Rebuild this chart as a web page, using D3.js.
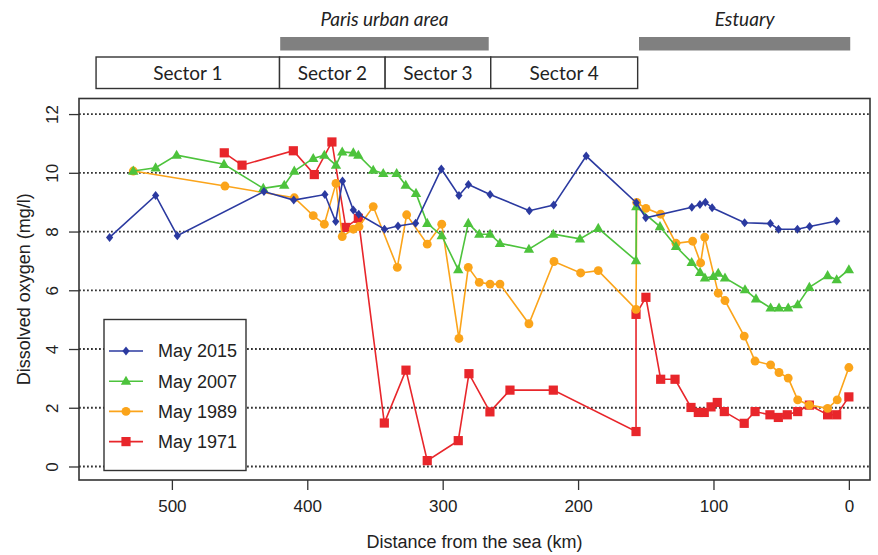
<!DOCTYPE html>
<html>
<head>
<meta charset="utf-8">
<script src="https://cdn.jsdelivr.net/npm/d3@7"></script>
<style>
  body { margin: 0; background: #fff; }
  svg { display: block; }
</style>
</head>
<body>
<div id="chart"></div>
<script>
// distance from the sea (km) and dissolved oxygen (mg/l)
var km2015 = [546, 512, 496, 432, 410, 387, 379, 374, 366, 362, 343, 333, 320, 301, 288, 281, 265, 236, 218, 194, 157, 150, 116, 110, 106, 101, 77, 58, 52, 38, 29, 9];
var do2015 = [7.8, 9.23, 7.86, 9.36, 9.07, 9.26, 8.34, 9.72, 8.73, 8.59, 8.08, 8.19, 8.28, 10.13, 9.23, 9.6, 9.26, 8.71, 8.9, 10.57, 8.98, 8.47, 8.83, 8.92, 9.0, 8.81, 8.3, 8.27, 8.08, 8.08, 8.17, 8.36];

var km2007 = [528.5, 512, 496.5, 461.5, 432.5, 417, 409.6, 395.6, 387.4, 378.8, 374.2, 366, 362.3, 351.3, 343.9, 334, 327.3, 319.7, 311.4, 300.7, 288.5, 281.1, 273, 265, 257.7, 236.3, 218.3, 198.6, 185.1, 157.2, 157, 139.5, 127.7, 116.1, 109.9, 106.3, 100.1, 96.5, 91.5, 76.7, 68.6, 57.8, 51.6, 44.8, 37.8, 29.2, 15.7, 9, 0];
var do2007 = [10.06, 10.17, 10.6, 10.29, 9.47, 9.58, 10.06, 10.49, 10.6, 10.26, 10.71, 10.68, 10.6, 10.09, 9.98, 9.98, 9.58, 9.3, 8.28, 7.86, 6.7, 8.28, 7.91, 7.91, 7.6, 7.4, 7.91, 7.75, 8.11, 7.01, 8.85, 8.17, 7.49, 6.95, 6.61, 6.42, 6.47, 6.58, 6.42, 6.02, 5.71, 5.4, 5.4, 5.4, 5.51, 6.1, 6.5, 6.36, 6.7];

var km1989 = [528.5, 460.8, 409.6, 395.6, 387.4, 378.8, 374.2, 366, 361.8, 351.3, 333.5, 326.6, 311.4, 300.7, 288, 281.1, 273, 265, 257.7, 236.3, 217.8, 198.1, 185.1, 157.2, 156.7, 149.9, 139, 127.7, 115.4, 109.5, 106.5, 96.5, 91.5, 77.3, 69.3, 57.8, 51.6, 44.8, 37.8, 29.2, 15.7, 8.6, 0];
var do1989 = [10.06, 9.55, 9.15, 8.54, 8.25, 9.64, 7.83, 8.08, 8.17, 8.85, 6.78, 8.57, 7.57, 8.25, 4.36, 6.78, 6.27, 6.21, 6.21, 4.86, 6.98, 6.59, 6.67, 5.35, 8.99, 8.79, 8.59, 7.6, 7.67, 6.93, 7.81, 5.9, 5.65, 4.44, 3.59, 3.46, 3.2, 3.01, 2.27, 2.09, 1.98, 2.27, 3.37];

var km1971 = [461.3, 448.2, 410.3, 394.8, 381.8, 371.6, 362.3, 343.1, 327.1, 311.4, 288.5, 280.6, 265.1, 250.3, 218.3, 157.2, 157.2, 149.9, 139, 128.4, 116.6, 111.2, 106.8, 101.8, 97.2, 92, 77.3, 69.3, 58.3, 52.1, 45.5, 37.8, 29.2, 15.7, 9, 0];
var do1971 = [10.68, 10.26, 10.75, 9.94, 11.05, 8.14, 8.45, 1.48, 3.28, 0.2, 0.88, 3.16, 1.86, 2.6, 2.6, 1.19, 5.18, 5.76, 2.97, 2.97, 2.01, 1.84, 1.84, 2.03, 2.18, 1.87, 1.47, 1.87, 1.76, 1.67, 1.76, 1.87, 2.09, 1.76, 1.76, 2.37];

var seriesNames = ["May 2015", "May 2007", "May 1989", "May 1971"];
var seriesColors = ["#2b3aa0", "#4dc33c", "#fba41a", "#e8262b"];
var seriesShapes = ["diamond", "triangle", "circle", "square"];

var xTicks = [500, 400, 300, 200, 100, 0];
var yTicks = [0, 2, 4, 6, 8, 10, 12];

// header: sector boundaries (km) and shaded zones
var sectorNames = ["Sector 1", "Sector 2", "Sector 3", "Sector 4"];
var sectorEdges = [556, 420.5, 342.5, 264.5, 156];
var zoneNames = ["Paris urban area", "Estuary"];
var zoneFrom = [420, 155];
var zoneTo = [266, -1];

(function () {
    var width = 878, height = 555;
    var plotLeft = 79, plotRight = 870, plotTop = 98.5, plotBottom = 480;

    var svg = d3.select("#chart").append("svg")
        .attr("width", width)
        .attr("height", height)
        .style("font-family", "'Liberation Sans', Arial, sans-serif");

    var x = d3.scaleLinear().domain([568.6, -15.6]).range([plotLeft, plotRight]);
    var y = d3.scaleLinear().domain([-0.46, 12.53]).range([plotBottom, plotTop]);

    // dotted grid
    svg.selectAll(".grid")
        .data(yTicks)
        .enter().append("line")
        .attr("class", "grid")
        .attr("x1", plotLeft).attr("x2", plotRight)
        .attr("y1", function (d) { return y(d); })
        .attr("y2", function (d) { return y(d); })
        .attr("stroke", "#333")
        .attr("stroke-width", 1.8)
        .attr("stroke-dasharray", "1.8,2.2");

    // axes
    var xAxis = svg.append("g")
        .attr("transform", "translate(0," + plotBottom + ")")
        .call(d3.axisBottom(x).tickValues(xTicks).tickSize(10).tickPadding(10));
    var yAxis = svg.append("g")
        .attr("transform", "translate(" + plotLeft + ",0)")
        .call(d3.axisLeft(y).tickValues(yTicks).tickSize(10).tickPadding(7));

    [xAxis, yAxis].forEach(function (g) {
        g.select(".domain").remove();
        g.selectAll(".tick line").attr("stroke", "#333").attr("stroke-width", 1.3);
        g.selectAll(".tick text")
            .attr("fill", "#222")
            .style("font-size", "17px")
            .style("font-family", "'Liberation Sans', Arial, sans-serif");
    });
    // y labels are turned, as in base R plots
    yAxis.selectAll(".tick text")
        .attr("transform", "translate(-27,0) rotate(-90)")
        .attr("x", 0)
        .attr("y", 0)
        .attr("dy", "0.35em")
        .attr("text-anchor", "middle");

    svg.append("rect")
        .attr("x", plotLeft).attr("y", plotTop)
        .attr("width", plotRight - plotLeft).attr("height", plotBottom - plotTop)
        .attr("fill", "none")
        .attr("stroke", "#333")
        .attr("stroke-width", 1.6);

    svg.append("text")
        .attr("x", (plotLeft + plotRight) / 2)
        .attr("y", 548)
        .attr("text-anchor", "middle")
        .attr("fill", "#222")
        .style("font-size", "18px")
        .text("Distance from the sea (km)");

    svg.append("text")
        .attr("transform", "translate(24," + (plotTop + plotBottom) / 2 + ") rotate(-90)")
        .attr("text-anchor", "middle")
        .attr("dy", "0.35em")
        .attr("fill", "#222")
        .style("font-size", "18px")
        .text("Dissolved oxygen (mg/l)");

    // header boxes
    var header = svg.append("g").style("font-family", "Lato, 'Open Sans', sans-serif");
    header.selectAll(".sector")
        .data(sectorNames)
        .enter().append("rect")
        .attr("class", "sector")
        .attr("x", function (d, i) { return x(sectorEdges[i]); })
        .attr("y", 57)
        .attr("width", function (d, i) { return x(sectorEdges[i + 1]) - x(sectorEdges[i]); })
        .attr("height", 31.5)
        .attr("fill", "#fff")
        .attr("stroke", "#333")
        .attr("stroke-width", 1.4);
    header.selectAll(".sectorLabel")
        .data(sectorNames)
        .enter().append("text")
        .attr("class", "sectorLabel")
        .attr("x", function (d, i) { return (x(sectorEdges[i]) + x(sectorEdges[i + 1])) / 2; })
        .attr("y", 73)
        .attr("dy", "0.35em")
        .attr("text-anchor", "middle")
        .attr("fill", "#222")
        .style("font-size", "19px")
        .text(function (d) { return d; });

    header.selectAll(".zone")
        .data(zoneNames)
        .enter().append("rect")
        .attr("class", "zone")
        .attr("x", function (d, i) { return x(zoneFrom[i]); })
        .attr("y", 37)
        .attr("width", function (d, i) { return x(zoneTo[i]) - x(zoneFrom[i]); })
        .attr("height", 13.5)
        .attr("fill", "#808080");
    header.selectAll(".zoneLabel")
        .data(zoneNames)
        .enter().append("text")
        .attr("class", "zoneLabel")
        .attr("x", function (d, i) { return (x(zoneFrom[i]) + x(zoneTo[i])) / 2; })
        .attr("y", 19)
        .attr("dy", "0.35em")
        .attr("text-anchor", "middle")
        .attr("fill", "#222")
        .style("font-size", "19px")
        .style("font-style", "italic")
        .text(function (d) { return d; });

    // marker shapes
    function markerPath(shape) {
        if (shape === "diamond") return "M0,-4.5L3.6,0L0,4.5L-3.6,0Z";
        if (shape === "triangle") return "M0,-5.5L5.2,3.6L-5.2,3.6Z";
        if (shape === "square") return "M-4.6,-4.6H4.6V4.6H-4.6Z";
        return d3.symbol().type(d3.symbolCircle).size(62)();
    }

    var allKm = [km2015, km2007, km1989, km1971];
    var allDo = [do2015, do2007, do1989, do1971];

    // older series first so 2015 sits on top
    [3, 2, 1, 0].forEach(function (s) {
        var pts = allKm[s].map(function (k, i) { return { km: k, v: allDo[s][i] }; });
        var line = d3.line()
            .x(function (d) { return x(d.km); })
            .y(function (d) { return y(d.v); });

        svg.append("path")
            .datum(pts)
            .attr("d", line)
            .attr("fill", "none")
            .attr("stroke", seriesColors[s])
            .attr("stroke-width", 1.6);

        svg.selectAll(".pt" + s)
            .data(pts)
            .enter().append("path")
            .attr("class", "pt" + s)
            .attr("transform", function (d) { return "translate(" + x(d.km) + "," + y(d.v) + ")"; })
            .attr("d", markerPath(seriesShapes[s]))
            .attr("fill", seriesColors[s]);
    });

    // legend
    var legend = svg.append("g");
    legend.append("rect")
        .attr("x", 104).attr("y", 319.5)
        .attr("width", 142).attr("height", 151)
        .attr("fill", "#fff")
        .attr("stroke", "#333")
        .attr("stroke-width", 1.4);

    var items = legend.selectAll(".item")
        .data(seriesNames)
        .enter().append("g")
        .attr("class", "item")
        .attr("transform", function (d, i) { return "translate(0," + (351 + i * 30.2) + ")"; });
    items.append("line")
        .attr("x1", 109).attr("x2", 143)
        .attr("stroke", function (d, i) { return seriesColors[i]; })
        .attr("stroke-width", 1.6);
    items.append("path")
        .attr("transform", "translate(126,0)")
        .attr("d", function (d, i) { return markerPath(seriesShapes[i]); })
        .attr("fill", function (d, i) { return seriesColors[i]; });
    items.append("text")
        .attr("x", 158)
        .attr("dy", "0.35em")
        .attr("fill", "#222")
        .style("font-size", "18px")
        .text(function (d) { return d; });
})();
</script>
</body>
</html>
